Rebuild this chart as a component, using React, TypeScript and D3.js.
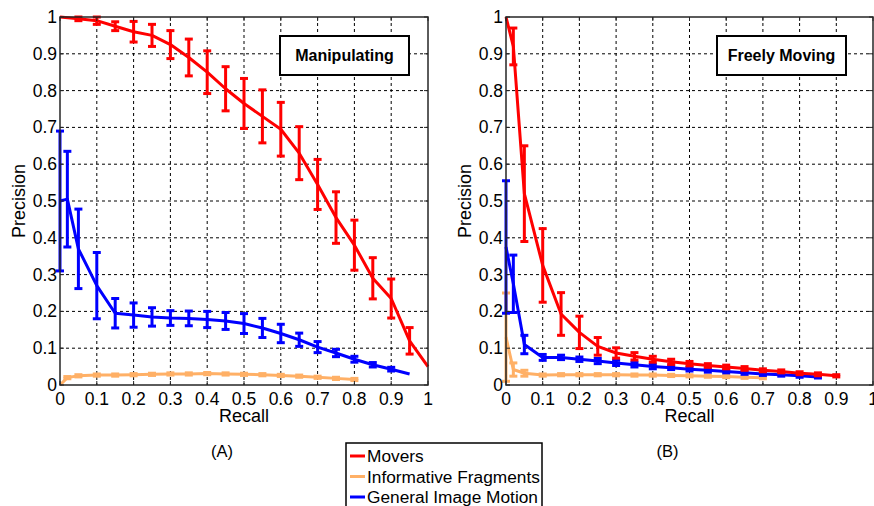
import React from "react";
import * as d3 from "d3";

// ---- data ----
const ticksX = [0, 0.1, 0.2, 0.3, 0.4, 0.5, 0.6, 0.7, 0.8, 0.9, 1];
const ticksY = [0, 0.1, 0.2, 0.3, 0.4, 0.5, 0.6, 0.7, 0.8, 0.9, 1];
const tickLabels = ["0", "0.1", "0.2", "0.3", "0.4", "0.5", "0.6", "0.7", "0.8", "0.9", "1"];

const legendNames = ["Movers", "Informative Fragments", "General Image Motion"];
const colors = ["#ff0000", "#ffb066", "#0000ff"];

// (A) Manipulating
const manipMoversX = [0, 0.05, 0.1, 0.15, 0.2, 0.25, 0.3, 0.35, 0.4, 0.45, 0.5, 0.55, 0.6, 0.65, 0.7, 0.75, 0.8, 0.85, 0.9, 0.95, 1];
const manipMovers = [1.0, 0.995, 0.99, 0.975, 0.96, 0.95, 0.925, 0.89, 0.85, 0.805, 0.765, 0.73, 0.695, 0.63, 0.545, 0.455, 0.38, 0.29, 0.235, 0.12, 0.05];
const manipMoversErr = [0, 0.005, 0.01, 0.012, 0.028, 0.03, 0.038, 0.05, 0.058, 0.06, 0.068, 0.072, 0.073, 0.072, 0.068, 0.07, 0.068, 0.056, 0.053, 0.036, 0];

const manipFragX = [0, 0.02, 0.05, 0.1, 0.15, 0.2, 0.25, 0.3, 0.35, 0.4, 0.45, 0.5, 0.55, 0.6, 0.65, 0.7, 0.75, 0.8];
const manipFrag = [0, 0.02, 0.025, 0.027, 0.027, 0.028, 0.029, 0.03, 0.03, 0.031, 0.03, 0.029, 0.028, 0.026, 0.024, 0.021, 0.018, 0.015];
const manipFragErr = [0, 0.003, 0.003, 0.003, 0.003, 0.003, 0.003, 0.003, 0.003, 0.003, 0.003, 0.003, 0.003, 0.003, 0.003, 0.003, 0.003, 0.003];

const manipMotionX = [0, 0.02, 0.05, 0.1, 0.15, 0.2, 0.25, 0.3, 0.35, 0.4, 0.45, 0.5, 0.55, 0.6, 0.65, 0.7, 0.75, 0.8, 0.85, 0.9, 0.95];
const manipMotion = [0.5, 0.505, 0.37, 0.27, 0.195, 0.19, 0.185, 0.182, 0.181, 0.178, 0.174, 0.167, 0.155, 0.14, 0.123, 0.103, 0.087, 0.07, 0.055, 0.043, 0.03];
const manipMotionErr = [0.19, 0.13, 0.108, 0.09, 0.04, 0.033, 0.025, 0.02, 0.02, 0.022, 0.023, 0.027, 0.026, 0.025, 0.018, 0.015, 0.01, 0.008, 0.006, 0.005, 0];

// (B) Freely Moving
const freeMoversX = [0, 0.02, 0.05, 0.1, 0.15, 0.2, 0.25, 0.3, 0.35, 0.4, 0.45, 0.5, 0.55, 0.6, 0.65, 0.7, 0.75, 0.8, 0.85, 0.9];
const freeMovers = [1.0, 0.92, 0.52, 0.325, 0.193, 0.143, 0.105, 0.087, 0.078, 0.07, 0.063, 0.058, 0.053, 0.049, 0.045, 0.04, 0.037, 0.032, 0.029, 0.025];
const freeMoversErr = [0, 0.05, 0.13, 0.1, 0.058, 0.044, 0.024, 0.014, 0.01, 0.008, 0.007, 0.006, 0.005, 0.005, 0.005, 0.004, 0.004, 0.004, 0.004, 0.003];

const freeFragX = [0, 0.02, 0.05, 0.1, 0.15, 0.2, 0.25, 0.3, 0.35, 0.4, 0.45, 0.5, 0.55, 0.6, 0.65, 0.7];
const freeFrag = [0.13, 0.042, 0.032, 0.027, 0.028, 0.028, 0.028, 0.028, 0.027, 0.027, 0.026, 0.025, 0.024, 0.023, 0.021, 0.02];
const freeFragErr = [0.12, 0.018, 0.008, 0.003, 0.003, 0.003, 0.003, 0.003, 0.003, 0.003, 0.003, 0.003, 0.003, 0.003, 0.003, 0.003];

const freeMotionX = [0, 0.02, 0.05, 0.1, 0.15, 0.2, 0.25, 0.3, 0.35, 0.4, 0.45, 0.5, 0.55, 0.6, 0.65, 0.7, 0.75, 0.8, 0.85];
const freeMotion = [0.375, 0.275, 0.11, 0.075, 0.075, 0.07, 0.065, 0.06, 0.055, 0.05, 0.047, 0.043, 0.04, 0.037, 0.033, 0.03, 0.028, 0.025, 0.022];
const freeMotionErr = [0.18, 0.078, 0.025, 0.008, 0.006, 0.006, 0.007, 0.007, 0.006, 0.006, 0.005, 0.005, 0.005, 0.004, 0.004, 0.004, 0.004, 0.004, 0.003];

const FONT = "'Liberation Sans', Arial, Helvetica, sans-serif";

type Series = { x: number[]; y: number[]; err: number[]; color: string };

const Panel = ({ left, right, title, caption, series, boxX }: {
  left: number; right: number; title: string; caption: string; series: Series[]; boxX: number;
}) => {
  const top = 17;
  const bottom = 385;
  const x = d3.scaleLinear().domain([0, 1]).range([left, right]);
  const y = d3.scaleLinear().domain([0, 1]).range([bottom, top]);
  const cap = 4;

  return (
    <g>
      {/* dashed grid */}
      {ticksX.slice(1, -1).map((t) => (
        <line key={"gx" + t} x1={x(t)} x2={x(t)} y1={top} y2={bottom} stroke="#000" strokeWidth={1} strokeDasharray="3,3" />
      ))}
      {ticksY.slice(1, -1).map((t) => (
        <line key={"gy" + t} x1={left} x2={right} y1={y(t)} y2={y(t)} stroke="#000" strokeWidth={1} strokeDasharray="3,3" />
      ))}

      {/* series: lines + error bars */}
      {series.map((s, si) => {
        const pts = s.x.map((v, i) => [v, s.y[i]] as [number, number]);
        const line = d3.line<[number, number]>().x((d) => x(d[0])).y((d) => y(d[1]));
        return (
          <g key={si}>
            <path d={line(pts) || ""} fill="none" stroke={s.color} strokeWidth={3} strokeLinejoin="round" />
            {s.x.map((v, i) => {
              if (!s.err[i]) return null;
              const px = x(v);
              const y0 = y(s.y[i] - s.err[i]);
              const y1 = y(s.y[i] + s.err[i]);
              return (
                <g key={i} stroke={s.color} strokeWidth={3}>
                  <line x1={px} x2={px} y1={y0} y2={y1} />
                  <line x1={px - cap} x2={px + cap} y1={y0} y2={y0} />
                  <line x1={px - cap} x2={px + cap} y1={y1} y2={y1} />
                </g>
              );
            })}
          </g>
        );
      })}

      {/* inward ticks */}
      {ticksX.map((t) => (
        <g key={"tx" + t} stroke="#262626" strokeWidth={1}>
          <line x1={x(t)} x2={x(t)} y1={bottom} y2={bottom - 4} />
          <line x1={x(t)} x2={x(t)} y1={top} y2={top + 4} />
        </g>
      ))}
      {ticksY.map((t) => (
        <g key={"ty" + t} stroke="#262626" strokeWidth={1}>
          <line x1={left} x2={left + 4} y1={y(t)} y2={y(t)} />
          <line x1={right} x2={right - 4} y1={y(t)} y2={y(t)} />
        </g>
      ))}

      {/* frame */}
      <rect x={left} y={top} width={right - left} height={bottom - top} fill="none" stroke="#262626" strokeWidth={1.5} />

      {/* tick labels */}
      {ticksX.map((t, i) => (
        <text key={"lx" + t} x={x(t)} y={405} textAnchor="middle" fontSize={17.5} fontFamily={FONT}>{tickLabels[i]}</text>
      ))}
      {ticksY.map((t, i) => (
        <text key={"ly" + t} x={left - 3} y={y(t) + 6} textAnchor="end" fontSize={17.5} fontFamily={FONT}>{tickLabels[i]}</text>
      ))}

      {/* axis titles */}
      <text x={(left + right) / 2} y={422} textAnchor="middle" fontSize={18} fontFamily={FONT}>Recall</text>
      <text transform={`translate(${left - 35},${(top + bottom) / 2}) rotate(-90)`} textAnchor="middle" fontSize={18} fontFamily={FONT}>Precision</text>

      {/* title box */}
      <rect x={boxX} y={36} width={129} height={39} fill="#fff" stroke="#000" strokeWidth={2} />
      <text x={boxX + 64.5} y={61} textAnchor="middle" fontSize={16} fontWeight="bold" fontFamily={FONT}>{title}</text>

      {/* caption */}
      <text x={(left + right) / 2 - 22} y={457} textAnchor="middle" fontSize={16.5} fontFamily={FONT}>{caption}</text>
    </g>
  );
};

export default function App() {
  const manip: Series[] = [
    { x: manipFragX, y: manipFrag, err: manipFragErr, color: colors[1] },
    { x: manipMotionX, y: manipMotion, err: manipMotionErr, color: colors[2] },
    { x: manipMoversX, y: manipMovers, err: manipMoversErr, color: colors[0] },
  ];
  const free: Series[] = [
    { x: freeFragX, y: freeFrag, err: freeFragErr, color: colors[1] },
    { x: freeMotionX, y: freeMotion, err: freeMotionErr, color: colors[2] },
    { x: freeMoversX, y: freeMovers, err: freeMoversErr, color: colors[0] },
  ];

  return (
    <svg width={874} height={506} style={{ position: "absolute", left: 0, top: 0, background: "#fff" }}>
      <rect x={0} y={0} width={874} height={506} fill="#fff" />
      <Panel left={60} right={428} title="Manipulating" caption="(A)" series={manip} boxX={280} />
      <Panel left={506} right={873} title="Freely Moving" caption="(B)" series={free} boxX={717} />

      {/* legend */}
      <rect x={346} y={443} width={196} height={70} fill="#fff" stroke="#000" strokeWidth={1.5} />
      {legendNames.map((n, i) => (
        <g key={n}>
          <line x1={350} x2={365} y1={456 + i * 20.5} y2={456 + i * 20.5} stroke={colors[i]} strokeWidth={3} />
          <text x={367} y={462 + i * 20.5} fontSize={17.3} fontFamily={FONT}>{n}</text>
        </g>
      ))}
    </svg>
  );
}
